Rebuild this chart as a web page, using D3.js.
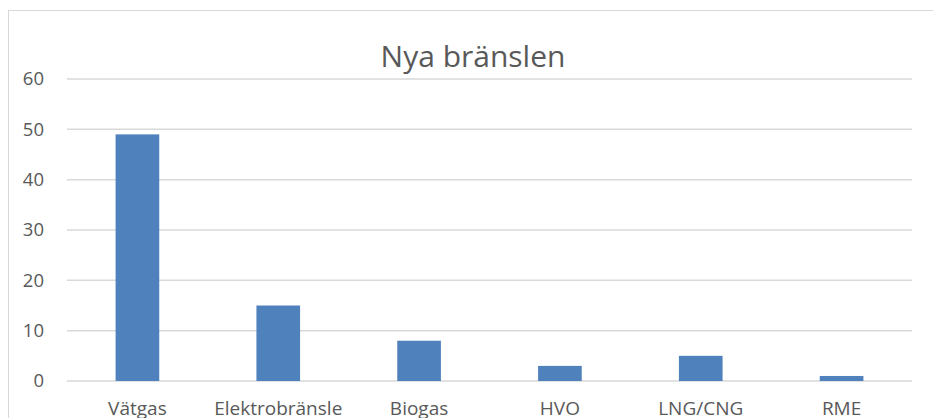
<!DOCTYPE html>
<html>
<head>
<meta charset="utf-8">
<script src="https://cdn.jsdelivr.net/npm/d3@7"></script>
<style>
  body { margin: 0; background: #fff; }
  svg { display: block; font-family: "Open Sans", sans-serif; }
</style>
</head>
<body>
<div id="chart"></div>
<script>
const categories = ["Vätgas", "Elektrobränsle", "Biogas", "HVO", "LNG/CNG", "RME"];
const values = [49, 15, 8, 3, 5, 1];
const yTicks = [0, 10, 20, 30, 40, 50, 60];
const title = "Nya bränslen";

const width = 933;
const height = 418;
const plot = { left: 67, right: 912, top: 79, bottom: 381 };

const svg = d3
  .select("#chart")
  .append("svg")
  .attr("width", width)
  .attr("height", height);

// chart area border (runs off the right and bottom edges)
svg
  .append("rect")
  .attr("x", 8.5)
  .attr("y", 10.5)
  .attr("width", 940)
  .attr("height", 420)
  .attr("fill", "none")
  .attr("stroke", "#d9d9d9");

const x = d3
  .scaleBand()
  .domain(categories)
  .range([plot.left, plot.right])
  .paddingInner(0.69)
  .paddingOuter(0.345);

const y = d3.scaleLinear().domain([0, 60]).range([plot.bottom, plot.top]);

// gridlines
svg
  .append("g")
  .selectAll("line")
  .data(yTicks)
  .join("line")
  .attr("x1", plot.left)
  .attr("x2", plot.right)
  .attr("y1", (d) => y(d))
  .attr("y2", (d) => y(d))
  .attr("stroke", "#d9d9d9")
  .attr("stroke-width", 1.5);

// y axis labels
const yAxis = svg
  .append("g")
  .attr("transform", `translate(${plot.left - 23}, 0)`)
  .call(d3.axisLeft(y).tickValues(yTicks).tickSize(0).tickPadding(0));
yAxis.select(".domain").remove();
yAxis
  .selectAll("text")
  .attr("font-family", "Open Sans, sans-serif")
  .attr("font-size", "18.5px")
  .attr("fill", "#595959");

// bars
svg
  .append("g")
  .selectAll("rect")
  .data(values)
  .join("rect")
  .attr("x", (_d, i) => x(categories[i]))
  .attr("width", x.bandwidth())
  .attr("y", (d) => y(d))
  .attr("height", (d) => y(0) - y(d))
  .attr("fill", "#4f81bd");

// category labels (cut by the bottom edge, as in the original)
const xAxis = svg
  .append("g")
  .attr("transform", `translate(0, ${plot.bottom})`)
  .call(d3.axisBottom(x).tickSize(0).tickPadding(21));
xAxis.select(".domain").remove();
xAxis
  .selectAll("text")
  .attr("font-family", "Open Sans, sans-serif")
  .attr("font-size", "19px")
  .attr("fill", "#595959");

// title
svg
  .append("text")
  .attr("x", 473)
  .attr("y", 67)
  .attr("text-anchor", "middle")
  .attr("font-size", "30px")
  .attr("fill", "#595959")
  .text(title);
</script>
</body>
</html>
